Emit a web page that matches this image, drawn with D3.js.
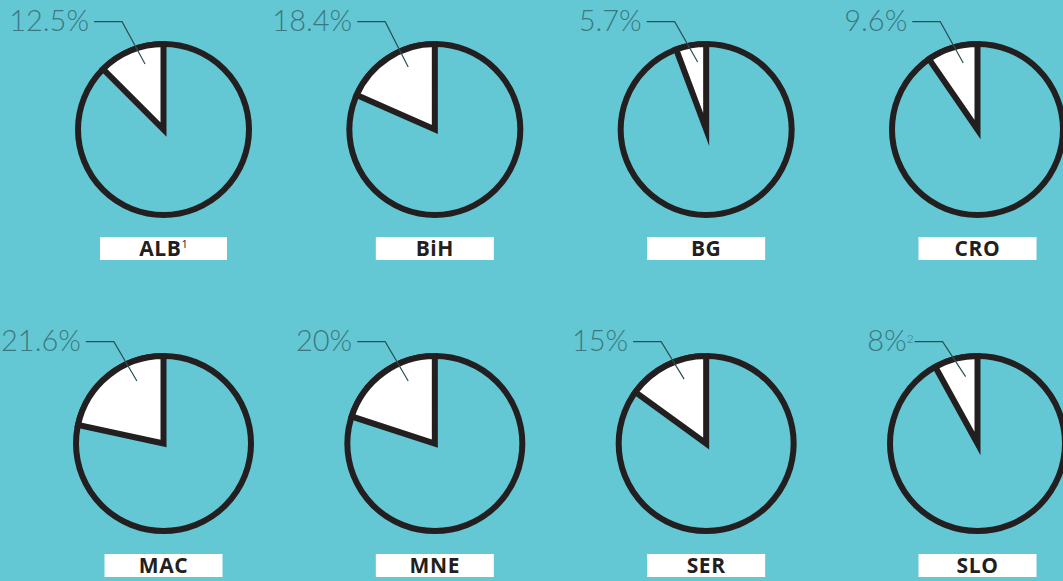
<!DOCTYPE html>
<html>
<head>
<meta charset="utf-8">
<script src="https://cdn.jsdelivr.net/npm/d3@7"></script>
<style>
  html, body { margin: 0; padding: 0; background: #63c8d4; }
  svg { display: block; }
</style>
</head>
<body>
<div id="chart"></div>
<script>
// data
var countries = ["ALB", "BiH", "BG", "CRO", "MAC", "MNE", "SER", "SLO"];
var countryNotes = ["1", "", "", "", "", "", "", ""];
var shares = [12.5, 18.4, 5.7, 9.6, 21.6, 20, 15, 8];
var shareLabels = ["12.5%", "18.4%", "5.7%", "9.6%", "21.6%", "20%", "15%", "8%"];
var shareNotes = ["", "", "", "", "", "", "", "2"];

var width = 1063, height = 581;
var bg = "#63c8d4", ink = "#231f20", labelColor = "#3a7882";

var svg = d3.select("#chart").append("svg")
    .attr("width", width)
    .attr("height", height);

svg.append("rect")
    .attr("width", width)
    .attr("height", height)
    .attr("fill", bg);

// layout
var x = d3.scalePoint().domain([0, 1, 2, 3]).range([163.5, 977.5]);
var y = d3.scalePoint().domain([0, 1]).range([129.5, 443.5]);
var leaderY = [21.7, 341.7];
var boxTop = [237, 554];
var radius = [85.5, 87.5];

var pie = d3.pie().sort(null).startAngle(0).endAngle(-2 * Math.PI);

countries.forEach(function(name, i) {
  var col = i % 4, row = Math.floor(i / 4);
  var cx = x(col), cy = y(row);
  var r = radius[row];
  var arc = d3.arc().innerRadius(0).outerRadius(r);
  var g = svg.append("g")
      .attr("transform", "translate(" + cx + "," + cy + ")");

  var slices = pie([shares[i], 100 - shares[i]]);

  // outer ring
  g.append("circle")
      .attr("r", r)
      .attr("fill", "none")
      .attr("stroke", ink)
      .attr("stroke-width", 6);

  // highlighted slice
  g.append("path")
      .attr("d", arc(slices[0]))
      .attr("fill", "#fff")
      .attr("stroke", ink)
      .attr("stroke-width", 6)
      .attr("stroke-linejoin", "miter")
      .attr("stroke-miterlimit", 20);

  // leader line
  var a = Math.max(slices[0].endAngle, -1.15) * 0.35;
  var ex = cx + 68 * Math.sin(a), ey = cy - 68 * Math.cos(a);
  var ly = leaderY[row];
  var elbow = ex - 23;
  svg.append("path")
      .attr("d", "M" + (elbow - 28) + "," + ly + "H" + elbow + "L" + ex + "," + ey)
      .attr("fill", "none")
      .attr("stroke", "#2c4f55")
      .attr("stroke-width", 1.2);

  var t = svg.append("text")
      .attr("x", elbow - 33)
      .attr("y", ly + 9)
      .attr("text-anchor", "end")
      .attr("font-family", "Lato, 'Open Sans', sans-serif")
      .attr("font-weight", 300)
      .attr("font-size", 29)
      .attr("fill", labelColor)
      .text(shareLabels[i]);
  if (shareNotes[i]) {
    t.attr("x", elbow - 29);
    t.append("tspan")
        .attr("font-size", 12)
        .attr("dy", -8)
        .text(shareNotes[i]);
  }

  // country box
  var bw = 118 + (countryNotes[i] ? 9 : 0);
  svg.append("rect")
      .attr("x", cx - bw / 2)
      .attr("y", boxTop[row])
      .attr("width", bw)
      .attr("height", 23)
      .attr("fill", "#fff");

  var lt = svg.append("text")
      .attr("x", cx)
      .attr("y", boxTop[row] + 19)
      .attr("text-anchor", "middle")
      .attr("font-family", "'Open Sans', Lato, sans-serif")
      .attr("font-weight", 700)
      .attr("font-size", 21)
      .attr("letter-spacing", 0.6)
      .attr("fill", ink)
      .text(name);
  if (countryNotes[i]) {
    lt.append("tspan")
        .attr("font-size", 11)
        .attr("font-weight", 400)
        .attr("letter-spacing", 0)
        .attr("dy", -8)
        .text(countryNotes[i]);
  }
});
</script>
</body>
</html>
